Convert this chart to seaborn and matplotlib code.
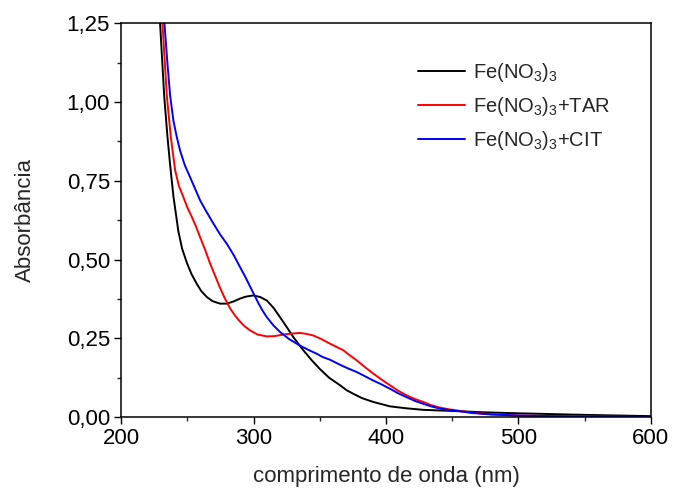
import numpy as np
import pandas as pd
import seaborn as sns
import matplotlib
matplotlib.use("Agg")
import matplotlib.pyplot as plt
from matplotlib.ticker import MultipleLocator, FuncFormatter

# --- data ---
black_x = [222, 226, 229.4, 232.5, 235, 237, 239.5, 243.2, 246, 249.6, 253, 257.1, 260.5, 264.7, 269,
           274.7, 279.8, 285, 289.8, 294, 299.8, 305, 310, 315, 320, 325, 330, 337.6, 344, 350, 357,
           365.3, 370, 375.3, 382, 390.4, 403, 415, 428.2, 440, 453.4, 475, 500, 550, 600]
black_y = [1.6, 1.40, 1.25, 1.02, 0.889, 0.80, 0.70, 0.590, 0.535, 0.490, 0.455, 0.423, 0.40, 0.381, 0.368,
           0.360, 0.360, 0.367, 0.376, 0.382, 0.386, 0.381, 0.370, 0.347, 0.317, 0.286, 0.254, 0.212,
           0.180, 0.153, 0.125, 0.101, 0.086, 0.074, 0.060, 0.048, 0.034, 0.028, 0.023, 0.021, 0.019,
           0.015, 0.012, 0.007, 0.003]

red_x = [222, 227, 231.2, 234.5, 237.5, 240.8, 243.5, 247, 250, 253.4, 256.5, 259.6, 263.5, 267.2, 271,
         274.7, 278.5, 282.3, 286, 289.8, 293, 297.4, 303, 310, 316, 322.5, 329, 335, 340, 345, 351,
         357.7, 362, 367.8, 372, 377.9, 384, 390.4, 397, 403, 409, 415.6, 422, 428.2, 434, 440.8, 447,
         453.4, 465, 480, 500, 525, 550, 600]
red_y = [1.6, 1.37, 1.25, 1.02, 0.889, 0.783, 0.735, 0.698, 0.665, 0.635, 0.605, 0.571, 0.530, 0.487,
         0.448, 0.410, 0.375, 0.345, 0.322, 0.303, 0.289, 0.275, 0.262, 0.256, 0.257, 0.262, 0.265,
         0.267, 0.264, 0.259, 0.248, 0.233, 0.224, 0.212, 0.198, 0.180, 0.159, 0.138, 0.118, 0.101,
         0.084, 0.069, 0.057, 0.048, 0.038, 0.030, 0.025, 0.021, 0.014, 0.009, 0.005, 0.003, 0.002, 0.000]

blue_x = [225, 229, 232.7, 235, 237, 239.5, 242, 244.5, 248, 252.1, 256, 259.6, 264.5, 269.7, 275, 279.8,
          285, 289.8, 294, 297.4, 300, 303.6, 306.5, 310, 315, 320, 327, 335, 341, 347.7, 352, 357.7,
          365.3, 371, 377.9, 384, 390.4, 397, 403, 409, 415.6, 422, 428.2, 434, 440.8, 447, 453.4, 465,
          480, 500, 525, 550, 600]
blue_y = [1.6, 1.42, 1.25, 1.12, 1.02, 0.94, 0.889, 0.846, 0.80, 0.761, 0.723, 0.688, 0.651, 0.614, 0.578,
          0.550, 0.514, 0.476, 0.443, 0.414, 0.392, 0.362, 0.340, 0.317, 0.291, 0.270, 0.247, 0.227,
          0.214, 0.201, 0.191, 0.182, 0.166, 0.155, 0.143, 0.130, 0.116, 0.103, 0.090, 0.076, 0.063,
          0.051, 0.042, 0.034, 0.027, 0.023, 0.020, 0.013, 0.008, 0.005, 0.003, 0.002, 0.000]

labels = [r'Fe(NO$_3$)$_3$', r'Fe(NO$_3$)$_3$+TAR', r'Fe(NO$_3$)$_3$+CIT']
colors = ['#000000', '#ff0000', '#0000ff']

df = pd.concat([
    pd.DataFrame({'x': black_x, 'y': black_y, 's': labels[0]}),
    pd.DataFrame({'x': red_x, 'y': red_y, 's': labels[1]}),
    pd.DataFrame({'x': blue_x, 'y': blue_y, 's': labels[2]}),
], ignore_index=True)

sns.set_style('ticks')
plt.rcParams['font.family'] = ['Liberation Sans', 'DejaVu Sans']
plt.rcParams['mathtext.fontset'] = 'custom'
plt.rcParams['mathtext.rm'] = 'Liberation Sans'
plt.rcParams['mathtext.it'] = 'Liberation Sans:italic'

fig = plt.figure(figsize=(6.73, 4.93), dpi=100)
ax = fig.add_axes([0.18, 0.154, 0.787, 0.799])

sns.lineplot(data=df, x='x', y='y', hue='s', palette=dict(zip(labels, colors)),
             sort=False, estimator=None, linewidth=1.4, ax=ax)

ax.set_xlim(200, 600)
ax.set_ylim(0, 1.25)
ax.xaxis.set_major_locator(MultipleLocator(100))
ax.xaxis.set_minor_locator(MultipleLocator(50))
ax.yaxis.set_major_locator(MultipleLocator(0.25))
ax.yaxis.set_minor_locator(MultipleLocator(0.125))
ax.yaxis.set_major_formatter(FuncFormatter(lambda v, p: f'{v:.2f}'.replace('.', ',')))
ax.tick_params(which='major', length=5, width=1, direction='out', labelsize=16, colors='black', pad=3)
ax.tick_params(which='minor', length=3, width=1, direction='out')
for s in ax.spines.values():
    s.set_visible(True)
    s.set_linewidth(1.1)
    s.set_color('black')

ax.set_xlabel('comprimento de onda (nm)', fontsize=16, labelpad=12)
ax.set_ylabel('Absorbância', fontsize=16, labelpad=22)

leg = ax.legend(frameon=False, loc='upper right', bbox_to_anchor=(0.958, 0.95),
                fontsize=14.5, handlelength=2.35, labelspacing=0.55, handletextpad=0.4)
for line in leg.get_lines():
    line.set_linewidth(1.4)

fig.savefig('out.png', dpi=100)
